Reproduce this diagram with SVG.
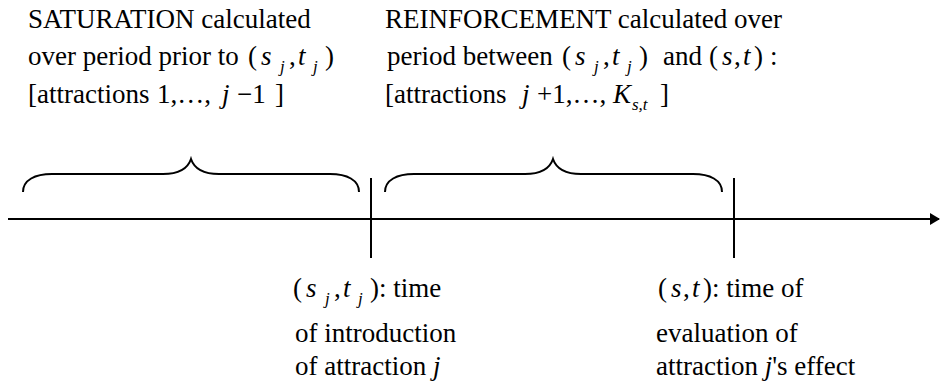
<svg xmlns="http://www.w3.org/2000/svg" width="940" height="385" viewBox="0 0 940 385">
<style>
text{font-family:"Liberation Serif","Times New Roman",serif;font-size:27px;fill:#000}
.i{font-style:italic}
.sub{font-style:italic;font-size:17px}
.ln{stroke:#000;stroke-width:2;fill:none}
</style>
<defs>
<marker id="ah" markerWidth="10" markerHeight="12" refX="9" refY="6" orient="auto" markerUnits="userSpaceOnUse">
<path d="M0,0 L10,6 L0,12 Z" fill="#000"/>
</marker>
</defs>
<rect width="940" height="385" fill="#fff"/>
<g id="connectors">
<line class="ln" x1="8" y1="219" x2="939" y2="219" marker-end="url(#ah)"/>
<line class="ln" x1="371" y1="178" x2="371" y2="258"/>
<line class="ln" x1="734" y1="178" x2="734" y2="258"/>
<path class="ln" d="M23,192 C23,180 35,174 52,174 L163,174 C180,174 188,168 191,159 C194,168 202,174 219,174 L330,174 C347,174 359,180 359,192"/>
<path class="ln" d="M385,192 C385,180 397,174 414,174 L525,174 C542,174 550,168 553,159 C556,168 564,174 581,174 L693,174 C710,174 722,180 722,192"/>
</g>
<g id="saturation">
<text x="28" y="28">SATURATION calculated</text>
<text x="28" y="65">over period prior to<tspan x="248">(</tspan><tspan class="i" x="261">s</tspan><tspan class="sub" x="280" y="72">j</tspan><tspan x="289" y="65">,</tspan><tspan class="i" x="298">t</tspan><tspan class="sub" x="313" y="72">j</tspan><tspan x="325" y="65">)</tspan></text>
<text x="28" y="103">[attractions<tspan x="157">1,…,</tspan><tspan class="i" x="222">j</tspan><tspan x="237">−1</tspan><tspan x="275">]</tspan></text>
</g>
<g id="reinforcement">
<text x="385" y="28">REINFORCEMENT calculated over</text>
<text x="387" y="65">period between<tspan x="562">(</tspan><tspan class="i" x="575">s</tspan><tspan class="sub" x="594" y="72">j</tspan><tspan x="603" y="65">,</tspan><tspan class="i" x="612">t</tspan><tspan class="sub" x="627" y="72">j</tspan><tspan x="639" y="65">)</tspan><tspan x="663">and</tspan><tspan x="709">(</tspan><tspan class="i" x="722">s</tspan><tspan x="734">,</tspan><tspan class="i" x="743">t</tspan><tspan x="754">)</tspan><tspan x="770">:</tspan></text>
<text x="385" y="103">[attractions<tspan class="i" x="522">j</tspan><tspan x="537">+1,…,</tspan><tspan class="i" x="613">K</tspan><tspan class="sub" x="632" y="110">s,t</tspan><tspan x="660" y="103">]</tspan></text>
</g>
<g id="intro">
<text x="293" y="297">(<tspan class="i" x="306">s</tspan><tspan class="sub" x="325" y="304">j</tspan><tspan x="334" y="297">,</tspan><tspan class="i" x="343">t</tspan><tspan class="sub" x="358" y="304">j</tspan><tspan x="370" y="297">): time</tspan></text>
<text x="295" y="342">of introduction</text>
<text x="295" y="375">of attraction <tspan class="i">j</tspan></text>
</g>
<g id="evaluation">
<text x="658" y="297">(<tspan class="i" x="671">s</tspan><tspan x="683">,</tspan><tspan class="i" x="692">t</tspan><tspan x="703">): time of</tspan></text>
<text x="656" y="342">evaluation of</text>
<text x="656" y="375">attraction <tspan class="i">j</tspan>'s effect</text>
</g>
</svg>
